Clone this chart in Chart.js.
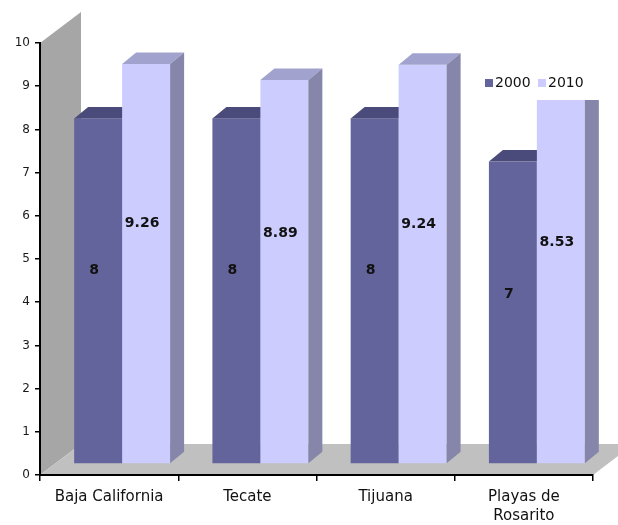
<!DOCTYPE html>
<html>
<head>
<meta charset="utf-8">
<script src="https://cdn.jsdelivr.net/npm/chart.js@4/dist/chart.umd.min.js"></script>
<style>
  html, body { margin: 0; padding: 0; background: #ffffff; }
  #wrap { width: 618px; height: 525px; }
</style>
</head>
<body>
<div id="wrap"><canvas id="c" width="618" height="525"></canvas></div>
<script>
// Municipalities (x categories)
const categories = ['Baja California', 'Tecate', 'Tijuana', ['Playas de', 'Rosarito']];
// Values per census year
const series2000 = [8, 8, 8, 7];
const series2010 = [9.26, 8.89, 9.24, 8.53];
const seriesNames = ['2000', '2010'];
// Value axis range
const yMin = 0;
const yMax = 10;
const yStep = 1;

// Extruded-column look: room depth, column offset into the room and column depth
const DEPTH = { wallDx: 41, wallDy: -31, offX: 13, offY: -11, barDx: 14, barDy: -11.5 };
const FACES = [
  { front: '#64649c', top: '#4b4b7b', side: '#4b4b7b', labelFrac: 0.44 },
  { front: '#ccccff', top: '#a2a2ce', side: '#8686aa', labelFrac: 0.40 }
];
const FONT = 'DejaVu Sans';

function poly(ctx, pts, color) {
  ctx.beginPath();
  ctx.moveTo(pts[0][0], pts[0][1]);
  for (let i = 1; i < pts.length; i++) ctx.lineTo(pts[i][0], pts[i][1]);
  ctx.closePath();
  ctx.fillStyle = color;
  ctx.fill();
}

// Back wall and floor behind the axes
const roomPlugin = {
  id: 'room',
  beforeDraw(chart) {
    const { ctx, chartArea: a } = chart;
    const dx = DEPTH.wallDx, dy = DEPTH.wallDy;
    ctx.save();
    poly(ctx, [[a.left, a.bottom], [a.left, a.top], [a.left + dx, a.top + dy], [a.left + dx, a.bottom + dy]], '#a6a6a6');
    poly(ctx, [[a.left, a.bottom], [a.right, a.bottom], [a.right + dx, a.bottom + dy], [a.left + dx, a.bottom + dy]], '#c0c0c0');
    ctx.restore();
  }
};

// Columns drawn as boxes from the bar elements laid out by the scales
const columnsPlugin = {
  id: 'columns',
  beforeDatasetDraw() { return false; },
  afterDatasetsDraw(chart) {
    const ctx = chart.ctx;
    const n = chart.data.labels.length;
    const labels = [];
    ctx.save();
    for (let i = 0; i < n; i++) {
      chart.data.datasets.forEach((ds, d) => {
        const el = chart.getDatasetMeta(d).data[i];
        const p = el.getProps(['x', 'y', 'base', 'width'], true);
        const f = FACES[d];
        const left = p.x - p.width / 2 + DEPTH.offX;
        const right = left + p.width;
        const top = p.y + DEPTH.offY;
        const bottom = p.base + DEPTH.offY;
        const bx = DEPTH.barDx, by = DEPTH.barDy;
        ctx.fillStyle = f.front;
        ctx.fillRect(left, top, p.width, bottom - top);
        poly(ctx, [[left, top], [left + bx, top + by], [right + bx, top + by], [right, top]], f.top);
        poly(ctx, [[right, top], [right + bx, top + by], [right + bx, bottom + by], [right, bottom]], f.side);
        labels.push({ text: String(ds.data[i]), x: (left + right) / 2 - 4, y: top + f.labelFrac * (bottom - top) });
      });
    }
    ctx.font = 'bold 14px "' + FONT + '"';
    ctx.fillStyle = '#111111';
    ctx.textAlign = 'center';
    ctx.textBaseline = 'middle';
    labels.forEach(l => ctx.fillText(l.text, l.x, l.y));
    ctx.restore();
  }
};

// Legend in a white box at the upper right
const legendPlugin = {
  id: 'boxLegend',
  afterDraw(chart) {
    const ctx = chart.ctx;
    ctx.save();
    ctx.fillStyle = '#ffffff';
    ctx.fillRect(468, 67, 146, 33);
    ctx.font = '14px "' + FONT + '"';
    ctx.textBaseline = 'middle';
    ctx.textAlign = 'left';
    const xs = [485, 538];
    chart.data.datasets.forEach((ds, d) => {
      ctx.fillStyle = FACES[d].front;
      ctx.fillRect(xs[d], 79, 8, 8);
      ctx.fillStyle = '#111111';
      ctx.fillText(ds.label, xs[d] + 10, 83.5);
    });
    ctx.restore();
  }
};

new Chart(document.getElementById('c'), {
  type: 'bar',
  data: {
    labels: categories,
    datasets: [
      { label: seriesNames[0], data: series2000, backgroundColor: FACES[0].front },
      { label: seriesNames[1], data: series2010, backgroundColor: FACES[1].front }
    ]
  },
  options: {
    responsive: false,
    animation: false,
    devicePixelRatio: 1,
    datasets: { bar: { categoryPercentage: 0.694, barPercentage: 1 } },
    layout: { padding: { top: 43, right: 25, left: 0, bottom: 0 } },
    plugins: { legend: { display: false }, tooltip: { enabled: false } },
    scales: {
      x: {
        grid: { display: true, drawOnChartArea: false, offset: true, tickLength: 6, color: '#000000', lineWidth: 1.5 },
        border: { display: true, color: '#000000', width: 2 },
        ticks: { font: { family: FONT, size: 15, lineHeight: 1.27 }, color: '#111111', padding: 7, maxRotation: 0, autoSkip: false },
        afterFit(s) { s.height = 50; }
      },
      y: {
        min: yMin, max: yMax,
        grid: { display: true, drawOnChartArea: false, tickLength: 5, color: '#000000', lineWidth: 1.5 },
        border: { display: true, color: '#000000', width: 2 },
        ticks: { stepSize: yStep, font: { family: FONT, size: 12 }, color: '#1a1a1a', padding: 5 },
        afterFit(s) { s.width = 40; }
      }
    }
  },
  plugins: [roomPlugin, columnsPlugin, legendPlugin]
});
</script>
</body>
</html>
